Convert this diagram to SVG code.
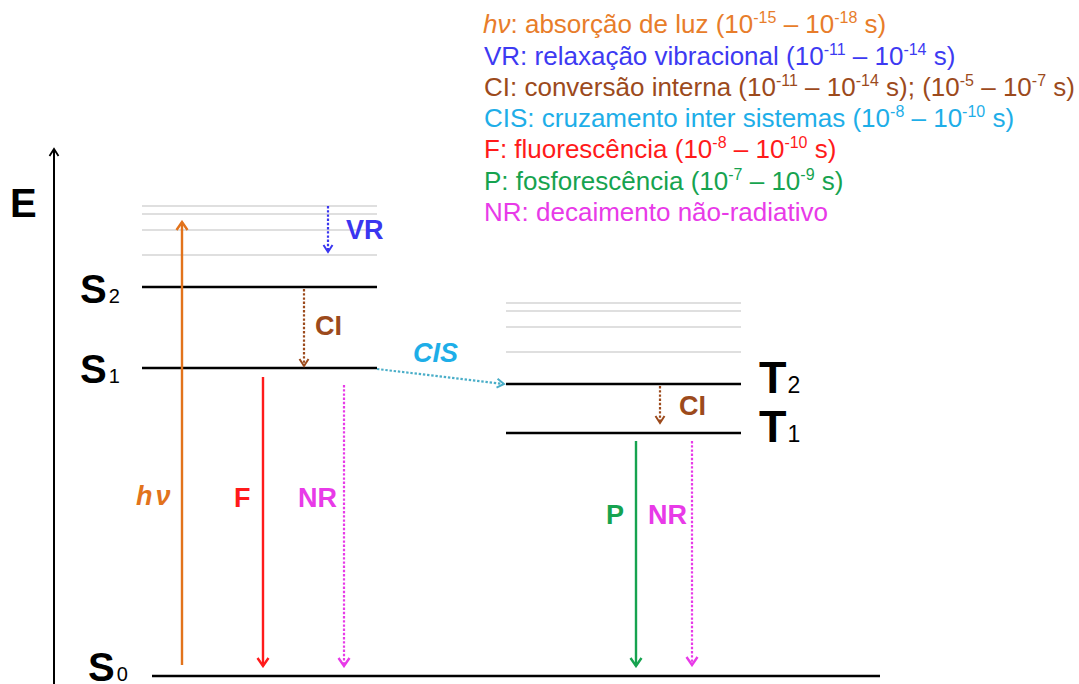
<svg xmlns="http://www.w3.org/2000/svg" width="1079" height="684" viewBox="0 0 1079 684">
  <style>
    text { font-family: "Liberation Sans", Arial, sans-serif; }
    .legend { font-size: 26px; }
    .sup { font-size: 16px; }
    .lvl { stroke: #000; stroke-width: 2.6; }
    .vib { stroke: #d4d4d4; stroke-width: 1.6; }
    .state { font-size: 40px; font-weight: bold; fill: #000; }
    .tstate { font-size: 45px; font-weight: bold; fill: #000; }
    .sub { font-size: 20px; font-weight: normal; }
    .tsub { font-size: 23px; font-weight: normal; }
    .lbl { font-size: 27px; font-weight: bold; }
    .dot { stroke-dasharray: 2.4 1.8; fill: none; }
  </style>
  <defs>
    <marker id="head-black" viewBox="0 0 12 12" refX="10" refY="6" markerWidth="12" markerHeight="12" markerUnits="userSpaceOnUse" orient="auto">
      <path d="M3,1.5 L10,6 L3,10.5" fill="none" stroke="#000" stroke-width="1.8"/>
    </marker>
    <marker id="head-orange" viewBox="0 0 14 14" refX="12" refY="7" markerWidth="14" markerHeight="14" markerUnits="userSpaceOnUse" orient="auto">
      <path d="M4,1.5 L12,7 L4,12.5" fill="none" stroke="#e2731c" stroke-width="2.4"/>
    </marker>
    <marker id="head-red" viewBox="0 0 14 14" refX="12" refY="7" markerWidth="14" markerHeight="14" markerUnits="userSpaceOnUse" orient="auto">
      <path d="M4,1.5 L12,7 L4,12.5" fill="none" stroke="#ff1a1a" stroke-width="2.4"/>
    </marker>
    <marker id="head-green" viewBox="0 0 14 14" refX="12" refY="7" markerWidth="14" markerHeight="14" markerUnits="userSpaceOnUse" orient="auto">
      <path d="M4,1.5 L12,7 L4,12.5" fill="none" stroke="#16a34f" stroke-width="2.4"/>
    </marker>
    <marker id="head-magenta" viewBox="0 0 14 14" refX="12" refY="7" markerWidth="14" markerHeight="14" markerUnits="userSpaceOnUse" orient="auto">
      <path d="M4,1.5 L12,7 L4,12.5" fill="none" stroke="#e83ae8" stroke-width="2.4"/>
    </marker>
    <marker id="head-blue" viewBox="0 0 12 12" refX="10" refY="6" markerWidth="12" markerHeight="12" markerUnits="userSpaceOnUse" orient="auto">
      <path d="M3,1.5 L10,6 L3,10.5" fill="none" stroke="#3a36f0" stroke-width="2"/>
    </marker>
    <marker id="head-brown" viewBox="0 0 12 12" refX="10" refY="6" markerWidth="12" markerHeight="12" markerUnits="userSpaceOnUse" orient="auto">
      <path d="M3,1.5 L10,6 L3,10.5" fill="none" stroke="#9c4a1c" stroke-width="2"/>
    </marker>
    <marker id="head-teal" viewBox="0 0 12 12" refX="10" refY="6" markerWidth="12" markerHeight="12" markerUnits="userSpaceOnUse" orient="auto">
      <path d="M3,1.5 L10,6 L3,10.5" fill="none" stroke="#4aaec8" stroke-width="2"/>
    </marker>
  </defs>

  <rect width="1079" height="684" fill="#fff"/>

  <!-- Legend with time scales -->
  <g id="legend" class="legend">
    <text x="483" y="33" fill="#e87d2a"><tspan font-style="italic">hν</tspan>: absorção de luz (10<tspan class="sup" dy="-10">-15</tspan><tspan dy="10"> – 10</tspan><tspan class="sup" dy="-10">-18</tspan><tspan dy="10"> s)</tspan></text>
    <text x="484" y="65" fill="#3d3af2">VR: relaxação vibracional (10<tspan class="sup" dy="-10">-11</tspan><tspan dy="10"> – 10</tspan><tspan class="sup" dy="-10">-14</tspan><tspan dy="10"> s)</tspan></text>
    <text x="484" y="96" fill="#9c4a1c">CI: conversão interna (10<tspan class="sup" dy="-10">-11</tspan><tspan dy="10"> – 10</tspan><tspan class="sup" dy="-10">-14</tspan><tspan dy="10"> s); (10</tspan><tspan class="sup" dy="-10">-5</tspan><tspan dy="10"> – 10</tspan><tspan class="sup" dy="-10">-7</tspan><tspan dy="10"> s)</tspan></text>
    <text x="484" y="127" fill="#1eaee8">CIS: cruzamento inter sistemas (10<tspan class="sup" dy="-10">-8</tspan><tspan dy="10"> – 10</tspan><tspan class="sup" dy="-10">-10</tspan><tspan dy="10"> s)</tspan></text>
    <text x="484" y="158" fill="#ff1a1a">F: fluorescência (10<tspan class="sup" dy="-10">-8</tspan><tspan dy="10"> – 10</tspan><tspan class="sup" dy="-10">-10</tspan><tspan dy="10"> s)</tspan></text>
    <text x="484" y="190" fill="#16a34f">P: fosforescência (10<tspan class="sup" dy="-10">-7</tspan><tspan dy="10"> – 10</tspan><tspan class="sup" dy="-10">-9</tspan><tspan dy="10"> s)</tspan></text>
    <text x="484" y="221" fill="#e83ae8">NR: decaimento não-radiativo</text>
  </g>

  <!-- Energy axis -->
  <g id="axis">
    <line x1="54" y1="684" x2="54" y2="149" stroke="#000" stroke-width="2" marker-end="url(#head-black)"/>
    <text x="10" y="217" font-size="40" font-weight="bold">E</text>
  </g>

  <!-- Singlet manifold -->
  <g id="S2-vib">
    <line class="vib" x1="142" y1="206" x2="377" y2="206"/>
    <line class="vib" x1="142" y1="214" x2="377" y2="214"/>
    <line class="vib" x1="142" y1="230" x2="377" y2="230"/>
    <line class="vib" x1="142" y1="255" x2="377" y2="255"/>
  </g>
  <g id="S2">
    <line class="lvl" x1="142" y1="287" x2="377" y2="287"/>
    <text class="state" x="80" y="303">S<tspan class="sub" dx="2">2</tspan></text>
  </g>
  <g id="S1">
    <line class="lvl" x1="142" y1="368" x2="377" y2="368"/>
    <text class="state" x="80" y="383">S<tspan class="sub" dx="2">1</tspan></text>
  </g>
  <g id="S0">
    <line class="lvl" x1="152" y1="676" x2="880" y2="676"/>
    <text class="state" x="88" y="681">S<tspan class="sub" dx="2">0</tspan></text>
  </g>

  <!-- Triplet manifold -->
  <g id="T2-vib">
    <line class="vib" x1="506" y1="303" x2="741" y2="303"/>
    <line class="vib" x1="506" y1="311" x2="741" y2="311"/>
    <line class="vib" x1="506" y1="327" x2="741" y2="327"/>
    <line class="vib" x1="506" y1="352" x2="741" y2="352"/>
  </g>
  <g id="T2">
    <line class="lvl" x1="506" y1="384" x2="741" y2="384"/>
    <text class="tstate" x="759" y="393">T<tspan class="tsub" dx="1">2</tspan></text>
  </g>
  <g id="T1">
    <line class="lvl" x1="506" y1="433" x2="741" y2="433"/>
    <text class="tstate" x="759" y="442">T<tspan class="tsub" dx="1">1</tspan></text>
  </g>

  <!-- Transitions -->
  <g id="connectors">
    <line x1="182" y1="665" x2="182" y2="222" stroke="#e2731c" stroke-width="2.4" marker-end="url(#head-orange)"/>
    <line class="dot" x1="328" y1="206" x2="328" y2="252" stroke="#3a36f0" stroke-width="2.2" marker-end="url(#head-blue)"/>
    <line class="dot" x1="304" y1="289" x2="304" y2="366" stroke="#9c4a1c" stroke-width="2.2" marker-end="url(#head-brown)"/>
    <line class="dot" x1="377" y1="369" x2="504" y2="384" stroke="#4aaec8" stroke-width="2.2" marker-end="url(#head-teal)"/>
    <line class="dot" x1="660" y1="386" x2="660" y2="423" stroke="#9c4a1c" stroke-width="2.2" marker-end="url(#head-brown)"/>
    <line x1="263" y1="377" x2="263" y2="666" stroke="#ff1a1a" stroke-width="2.4" marker-end="url(#head-red)"/>
    <line class="dot" x1="344" y1="385" x2="344" y2="666" stroke="#e83ae8" stroke-width="2.2" marker-end="url(#head-magenta)"/>
    <line x1="636" y1="441" x2="636" y2="666" stroke="#16a34f" stroke-width="2.4" marker-end="url(#head-green)"/>
    <line class="dot" x1="692" y1="441" x2="692" y2="665" stroke="#e83ae8" stroke-width="2.2" marker-end="url(#head-magenta)"/>
  </g>

  <!-- Transition labels -->
  <g id="labels" class="lbl">
    <text x="346" y="239" fill="#3a36f0">VR</text>
    <text x="315" y="335" fill="#9c4a1c">CI</text>
    <text x="413" y="362" fill="#1eaee8" font-style="italic">CIS</text>
    <text x="679" y="415" fill="#9c4a1c">CI</text>
    <text x="136" y="505" fill="#e2731c" font-style="italic" letter-spacing="3">hν</text>
    <text x="234" y="507" fill="#ff1a1a">F</text>
    <text x="298" y="507" fill="#e83ae8">NR</text>
    <text x="606" y="524" fill="#16a34f">P</text>
    <text x="648" y="524" fill="#e83ae8">NR</text>
  </g>
</svg>
